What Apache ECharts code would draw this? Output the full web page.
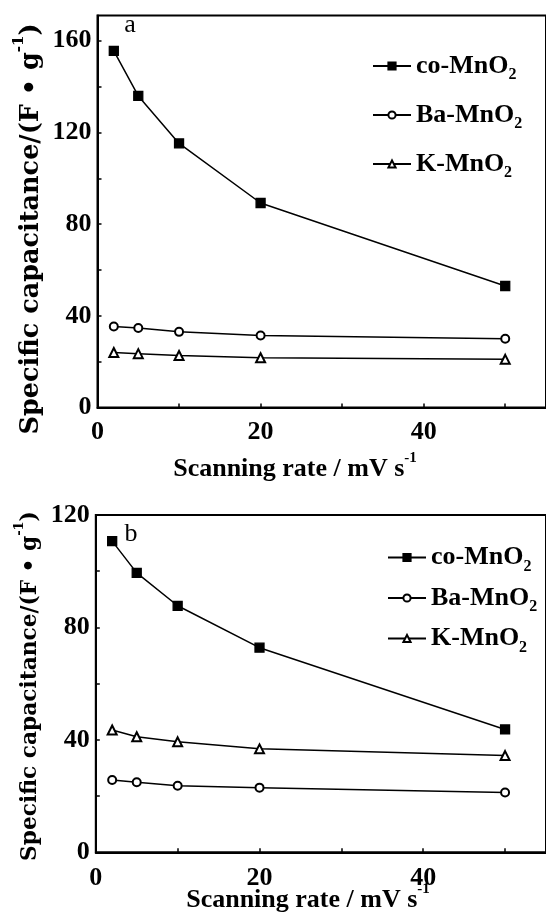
<!DOCTYPE html>
<html>
<head>
<meta charset="utf-8">
<script src="https://cdn.jsdelivr.net/npm/echarts@6/dist/echarts.min.js"></script>
<style>
html, body { margin: 0; padding: 0; background: #fff; }
#chart { width: 546px; height: 921px; }
</style>
</head>
<body>
<div id="chart"></div>
<script>
// Scan rates (mV/s) shared by both panels
const scanRates = [2, 5, 10, 20, 50];
const seriesNames = ['co-MnO2', 'Ba-MnO2', 'K-MnO2'];

// Panel a: specific capacitance (F/g)
const coA = [155.6, 135.9, 115.2, 89.2, 53.0];
const baA = [35.3, 34.7, 33.0, 31.4, 30.0];
const kA  = [24.0, 23.5, 22.7, 21.7, 21.0];

// Panel b: specific capacitance (F/g)
const coB = [110.7, 99.4, 87.7, 72.8, 43.7];
const baB = [25.7, 24.9, 23.7, 23.0, 21.3];
const kB  = [43.5, 41.1, 39.3, 36.8, 34.4];

// Tick marks and tick labels
const xTicks = [0, 10, 20, 30, 40, 50];
const xTickLabels = [0, 20, 40];
const yTicksA = [0, 20, 40, 60, 80, 100, 120, 140, 160];
const yTickLabelsA = [0, 40, 80, 120, 160];
const yTicksB = [0, 20, 40, 60, 80, 100, 120];
const yTickLabelsB = [0, 40, 80, 120];

const SERIF = '"Liberation Serif", "Times New Roman", serif';
const WIDE_SERIF = '"DejaVu Serif", serif';

const symbols = { 'co-MnO2': 'rect', 'Ba-MnO2': 'emptyCircle', 'K-MnO2': 'emptyTriangle' };
const symbolSizes = { 'co-MnO2': 9, 'Ba-MnO2': 8, 'K-MnO2': 9 };

function pairs(ys) { return scanRates.map((x, i) => [x, ys[i]]); }

function makeSeries(name, ys, idx) {
  return {
    name: name,
    type: 'line',
    xAxisIndex: idx,
    yAxisIndex: idx,
    data: pairs(ys),
    symbol: symbols[name],
    symbolSize: symbolSizes[name],
    showAllSymbol: true,
    lineStyle: { color: '#000', width: 1.5 },
    itemStyle: { color: '#000', borderColor: '#000', borderWidth: 1.3 },
    emphasis: { disabled: true },
    z: 3
  };
}

function xAxis(idx, margin) {
  return {
    type: 'value', gridIndex: idx, min: 0, max: 55,
    axisLine: { show: true, lineStyle: { color: '#000', width: 2 } },
    axisTick: { show: true, inside: true, length: 4, customValues: xTicks, lineStyle: { color: '#000', width: 1.5 } },
    axisLabel: { customValues: xTickLabels, margin: margin, color: '#000', fontFamily: SERIF, fontWeight: 'bold', fontSize: 26 },
    splitLine: { show: false }
  };
}

function yAxis(idx, max, ticks, labels) {
  return {
    type: 'value', gridIndex: idx, min: 0, max: max,
    axisLine: { show: true, lineStyle: { color: '#000', width: 2 } },
    axisTick: { show: true, inside: true, length: 4, customValues: ticks, lineStyle: { color: '#000', width: 1.5 } },
    axisLabel: { customValues: labels, margin: 6, color: '#000', fontFamily: SERIF, fontWeight: 'bold', fontSize: 26 },
    splitLine: { show: false }
  };
}

const legendRich = {
  m: { fontFamily: SERIF, fontWeight: 'bold', fontSize: 26, color: '#000', lineHeight: 34, verticalAlign: 'middle' },
  s: { fontFamily: SERIF, fontWeight: 'bold', fontSize: 16, color: '#000', lineHeight: 12, verticalAlign: 'bottom' }
};

function legend(left, top, gap) {
  return {
    orient: 'vertical', left: left, top: top, padding: 0,
    itemWidth: 38, itemHeight: 9, itemGap: gap,
    selectedMode: false,
    data: seriesNames,
    formatter: name => '{m|' + name.slice(0, -1) + '}{s|' + name.slice(-1) + '}',
    textStyle: { rich: legendRich }
  };
}

const titleRich = {
  m: { fontFamily: SERIF, fontWeight: 'bold', fontSize: 26, fill: '#000', lineHeight: 36, verticalAlign: 'middle' },
  sup: { fontFamily: SERIF, fontWeight: 'bold', fontSize: 15, fill: '#000', lineHeight: 12, verticalAlign: 'top' }
};
function yTitleRich(size) {
  return {
    m: { fontFamily: WIDE_SERIF, fontWeight: 'bold', fontSize: size, fill: '#000', lineHeight: size * 1.55, verticalAlign: 'middle' },
    sup: { fontFamily: WIDE_SERIF, fontWeight: 'bold', fontSize: Math.round(size * 0.6), fill: '#000', lineHeight: size * 0.5, verticalAlign: 'top' }
  };
}

const xTitle = '{m|Scanning rate / mV s}{sup|-1}';
const yTitle = '{m|Specific capacitance/(F • g}{sup|-1}{m|)}';

function richText(x, y, str, rich, rotation) {
  return {
    type: 'text', x: x, y: y, rotation: rotation || 0, silent: true,
    style: { text: str, rich: rich, align: 'center', verticalAlign: 'middle', fill: '#000' }
  };
}
function plainText(x, y, str) {
  return {
    type: 'text', x: x, y: y, silent: true,
    style: { text: str, fontFamily: SERIF, fontSize: 26, align: 'center', verticalAlign: 'middle', fill: '#000' }
  };
}

const chart = echarts.init(document.getElementById('chart'), null, { renderer: 'canvas' });
chart.setOption({
  animation: false,
  backgroundColor: '#fff',
  grid: [
    { left: 97.5, top: 15.5, width: 456.5, height: 392, show: true, borderColor: '#000', borderWidth: 2, containLabel: false },
    { left: 95.8, top: 515, width: 459.8, height: 337.3, show: true, borderColor: '#000', borderWidth: 2, containLabel: false }
  ],
  xAxis: [xAxis(0, 12), xAxis(1, 13)],
  yAxis: [yAxis(0, 171, yTicksA, yTickLabelsA), yAxis(1, 120, yTicksB, yTickLabelsB)],
  legend: [legend(372, 53, 19), legend(387, 544.5, 10.5)],
  tooltip: { show: false },
  series: [
    makeSeries('co-MnO2', coA, 0),
    makeSeries('Ba-MnO2', baA, 0),
    makeSeries('K-MnO2', kA, 0),
    makeSeries('co-MnO2', coB, 1),
    makeSeries('Ba-MnO2', baB, 1),
    makeSeries('K-MnO2', kB, 1)
  ],
  graphic: [
    plainText(130, 25, 'a'),
    plainText(131, 534, 'b'),
    richText(295, 469, xTitle, titleRich),
    richText(308, 900, xTitle, titleRich),
    richText(31, 229, yTitle, yTitleRich(25.5), Math.PI / 2),
    richText(30, 686, yTitle, yTitleRich(21.7), Math.PI / 2)
  ]
});
</script>
</body>
</html>
